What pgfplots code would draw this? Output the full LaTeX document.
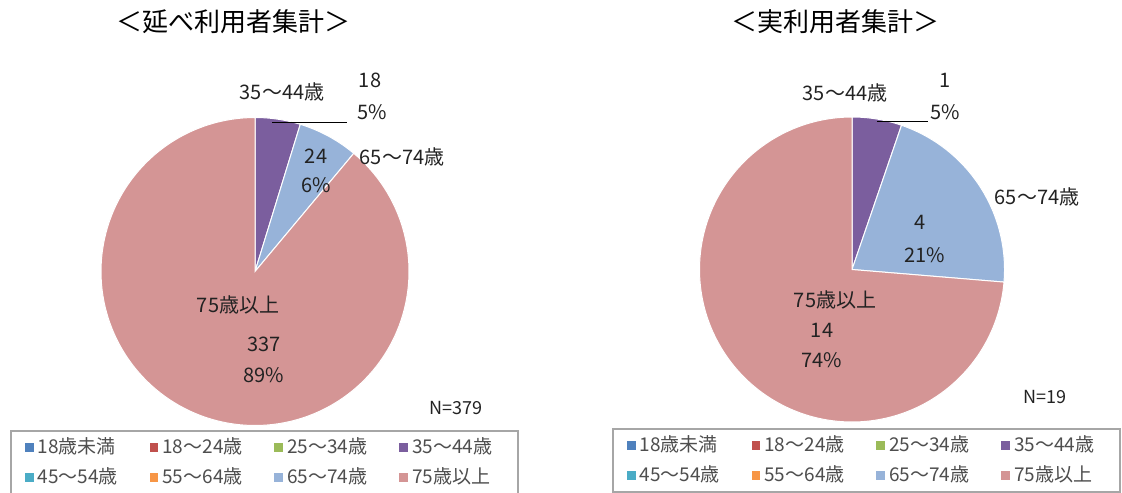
\documentclass[border=0pt]{standalone}
\usepackage{pgfplots}
\pgfplotsset{compat=1.18}
\usepackage{fontspec}
\setmainfont{Noto Sans CJK JP}
\definecolor{c18}{HTML}{4F81BD}
\definecolor{c24}{HTML}{C0504D}
\definecolor{c34}{HTML}{9BBB59}
\definecolor{c44}{HTML}{7B5E9E}
\definecolor{c54}{HTML}{4BACC6}
\definecolor{c64}{HTML}{F79646}
\definecolor{c74}{HTML}{97B3D9}
\definecolor{c75}{HTML}{D49595}
\definecolor{txt}{HTML}{222222}
% counts: 35-44, 65-74, 75+
\def\LA{18}\def\LB{24}\def\LC{337}
\def\RA{1}\def\RB{4}\def\RC{14}
\newcommand\lbl[1]{\fontsize{10pt}{12pt}\selectfont #1}
\begin{document}
\begin{tikzpicture}
\pgfmathsetmacro\LT{\LA+\LB+\LC}
\pgfmathsetmacro\La{90-\LA/\LT*360}
\pgfmathsetmacro\Lb{\La-\LB/\LT*360}
\pgfmathsetmacro\RT{\RA+\RB+\RC}
\pgfmathsetmacro\Ra{90-\RA/\RT*360}
\pgfmathsetmacro\Rb{\Ra-\RB/\RT*360}
\pgfplotsset{pieax/.style={
  scale only axis, width=280.5pt, height=246pt,
  ymin=0, ymax=492, y dir=reverse, hide axis, clip=false,
  legend columns=4,
  legend image code/.code={\fill[##1, draw=none] (0pt,-2.2pt) rectangle (4.4pt,2.2pt);},
  legend style={draw=gray!70, line width=0.8pt, fill=white,
    font=\fontsize{9.5pt}{10pt}\selectfont, text=txt!80,
    inner xsep=7pt, inner ysep=1.5pt, row sep=1.5pt, anchor=north west},
}}
% ---------------- left pie ----------------
\begin{axis}[pieax, xmin=0, xmax=561, at={(0pt,0pt)},
  legend style={at={(axis cs:10,430)}}]
\addplot[forget plot, fill=c44, draw=white, line width=0.5pt, domain=\La:90, samples=30, variable=\t]
  ({255+154*cos(\t)},{271.5-154*sin(\t)}) -- (axis cs:255,271.5) -- cycle;
\addplot[forget plot, fill=c74, draw=white, line width=0.5pt, domain=\Lb:\La, samples=30, variable=\t]
  ({255+154*cos(\t)},{271.5-154*sin(\t)}) -- (axis cs:255,271.5) -- cycle;
\addplot[forget plot, fill=c75, draw=white, line width=0.5pt, domain=-270:\Lb, samples=150, variable=\t]
  ({255+154*cos(\t)},{271.5-154*sin(\t)}) -- (axis cs:255,271.5) -- cycle;
\addplot[forget plot, black, line width=0.6pt] coordinates {(272,122.5) (347,122.5)};
\node[font=\fontsize{13pt}{15pt}\selectfont] at (axis cs:233,22) {＜延べ利用者集計＞};
\node[text=txt] at (axis cs:282,92) {\lbl{35～44歳}};
\node[text=txt] at (axis cs:370,80) {\lbl{18}};
\node[text=txt] at (axis cs:372,112) {\lbl{5\%}};
\node[text=txt] at (axis cs:316,156) {\lbl{24}};
\node[text=txt] at (axis cs:316,185) {\lbl{6\%}};
\node[text=txt] at (axis cs:402,157) {\lbl{65～74歳}};
\node[text=txt] at (axis cs:238,305) {\lbl{75歳以上}};
\node[text=txt] at (axis cs:264,344) {\lbl{337}};
\node[text=txt] at (axis cs:264,375) {\lbl{89\%}};
\node[text=txt] at (axis cs:456,408) {\fontsize{9pt}{10pt}\selectfont N=379};
\addlegendimage{fill=c18}\addlegendimage{fill=c24}\addlegendimage{fill=c34}\addlegendimage{fill=c44}
\addlegendimage{fill=c54}\addlegendimage{fill=c64}\addlegendimage{fill=c74}\addlegendimage{fill=c75}
\legend{\makebox[54pt][l]{18歳未満},\makebox[54pt][l]{18～24歳},\makebox[54pt][l]{25～34歳},\makebox[44pt][l]{35～44歳},
        \makebox[54pt][l]{45～54歳},\makebox[54pt][l]{55～64歳},\makebox[54pt][l]{65～74歳},\makebox[44pt][l]{75歳以上}}
\end{axis}
% ---------------- right pie ----------------
\begin{axis}[pieax, xmin=561, xmax=1122, at={(280.5pt,0pt)},
  legend style={at={(axis cs:612,428)}}]
\addplot[forget plot, fill=c44, draw=white, line width=0.5pt, domain=\Ra:90, samples=30, variable=\t]
  ({852+152.5*cos(\t)},{269.5-152.5*sin(\t)}) -- (axis cs:852,269.5) -- cycle;
\addplot[forget plot, fill=c74, draw=white, line width=0.5pt, domain=\Rb:\Ra, samples=60, variable=\t]
  ({852+152.5*cos(\t)},{269.5-152.5*sin(\t)}) -- (axis cs:852,269.5) -- cycle;
\addplot[forget plot, fill=c75, draw=white, line width=0.5pt, domain=-270:\Rb, samples=150, variable=\t]
  ({852+152.5*cos(\t)},{269.5-152.5*sin(\t)}) -- (axis cs:852,269.5) -- cycle;
\addplot[forget plot, black, line width=0.6pt] coordinates {(877,121.5) (928,121.5)};
\node[font=\fontsize{13pt}{15pt}\selectfont] at (axis cs:835,22) {＜実利用者集計＞};
\node[text=txt] at (axis cs:845,93) {\lbl{35～44歳}};
\node[text=txt] at (axis cs:945,80) {\lbl{1}};
\node[text=txt] at (axis cs:945,112) {\lbl{5\%}};
\node[text=txt] at (axis cs:1037,197) {\lbl{65～74歳}};
\node[text=txt] at (axis cs:920,222) {\lbl{4}};
\node[text=txt] at (axis cs:925,255) {\lbl{21\%}};
\node[text=txt] at (axis cs:835,300) {\lbl{75歳以上}};
\node[text=txt] at (axis cs:822,330) {\lbl{14}};
\node[text=txt] at (axis cs:822,360) {\lbl{74\%}};
\node[text=txt] at (axis cs:1045,397) {\fontsize{9pt}{10pt}\selectfont N=19};
\addlegendimage{fill=c18}\addlegendimage{fill=c24}\addlegendimage{fill=c34}\addlegendimage{fill=c44}
\addlegendimage{fill=c54}\addlegendimage{fill=c64}\addlegendimage{fill=c74}\addlegendimage{fill=c75}
\legend{\makebox[54pt][l]{18歳未満},\makebox[54pt][l]{18～24歳},\makebox[54pt][l]{25～34歳},\makebox[44pt][l]{35～44歳},
        \makebox[54pt][l]{45～54歳},\makebox[54pt][l]{55～64歳},\makebox[54pt][l]{65～74歳},\makebox[44pt][l]{75歳以上}}
\end{axis}
\pgfresetboundingbox
\path[use as bounding box] (0pt,0pt) rectangle (561pt,246pt);
\end{tikzpicture}
\end{document}
